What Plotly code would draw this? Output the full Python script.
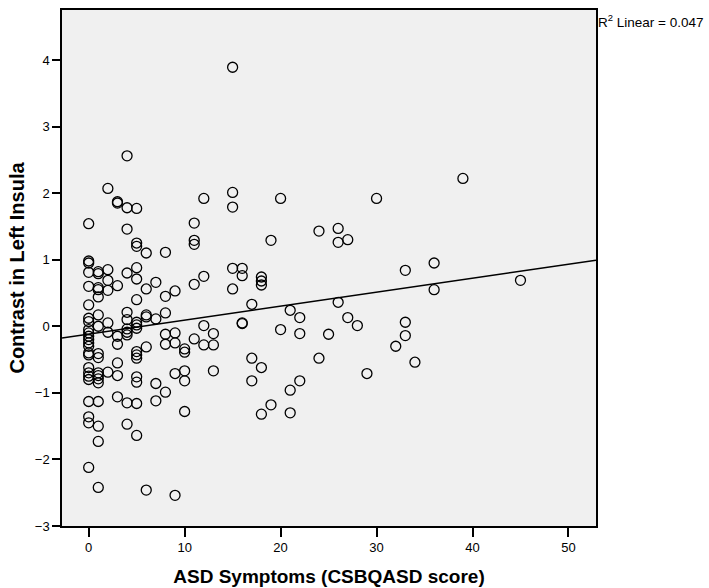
import numpy as np
import plotly.graph_objects as go

# ASD symptom score (x) and contrast values grouped by score
scores = [0, 1, 2, 3, 4, 5, 6, 7, 8, 9, 10, 11, 12, 13, 15, 16, 17, 18, 19, 20,
          21, 22, 24, 25, 26, 27, 28, 29, 30, 32, 33, 34, 36, 39, 45]
contrast_by_score = [
    [1.54, 0.98, 0.95, 0.81, 0.60, 0.32, 0.12, 0.07, -0.05, -0.10, -0.15, -0.20,
     -0.25, -0.30, -0.40, -0.43, -0.62, -0.70, -0.75, -0.80, -1.13, -1.36, -1.45, -2.12],
    [0.82, 0.79, 0.58, 0.55, 0.44, 0.17, 0.00, -0.41, -0.47, -0.70, -0.74, -0.79,
     -0.85, -1.13, -1.50, -1.73, -2.42],
    [2.07, 0.85, 0.69, 0.54, 0.05, -0.09, -0.69],
    [1.87, 1.85, 0.61, -0.15, -0.27, -0.55, -0.74, -1.06],
    [2.56, 1.78, 1.46, 0.80, 0.21, 0.10, -0.04, -0.09, -0.13, -1.15, -1.47],
    [1.77, 1.25, 1.20, 0.88, 0.71, 0.40, 0.06, 0.02, -0.03, -0.38, -0.43, -0.48,
     -0.76, -0.84, -1.16, -1.64],
    [1.10, 0.56, 0.17, 0.14, -0.31, -2.46],
    [0.66, 0.11, -0.86, -1.12],
    [1.11, 0.45, 0.20, -0.12, -0.27, -0.99],
    [0.53, -0.10, -0.25, -0.71, -2.54],
    [-0.34, -0.39, -0.67, -0.82, -1.28],
    [1.55, 1.29, 1.23, 0.63, -0.19],
    [1.92, 0.75, 0.01, -0.28],
    [-0.11, -0.28, -0.67],
    [3.89, 2.01, 1.79, 0.87, 0.56],
    [0.87, 0.76, 0.05, 0.04],
    [0.33, -0.48, -0.82],
    [0.74, 0.68, 0.62, -0.62, -1.32],
    [1.29, -1.18],
    [1.92, -0.05],
    [0.24, -0.96, -1.30],
    [0.13, -0.11, -0.82],
    [1.43, -0.48],
    [-0.12],
    [1.47, 1.26, 0.36],
    [1.30, 0.13],
    [0.01],
    [-0.71],
    [1.92],
    [-0.30],
    [0.84, 0.06, -0.14],
    [-0.54],
    [0.95, 0.55],
    [2.22],
    [0.69],
]
x_ticks = [0, 10, 20, 30, 40, 50]
y_ticks = [-3, -2, -1, 0, 1, 2, 3, 4]
r2_label = "R<sup>2</sup> Linear = 0.047"

x_vals = [s for s, vals in zip(scores, contrast_by_score) for _ in vals]
y_vals = [v for vals in contrast_by_score for v in vals]

x_range = [-2.78, 52.87]
y_range = [-3, 4.75]

slope, intercept = np.polyfit(x_vals, y_vals, 1)
line_x = np.array(x_range)
line_y = intercept + slope * line_x

FONT = "Liberation Sans, Arial, sans-serif"

fig = go.Figure()
fig.add_trace(go.Scatter(
    x=line_x, y=line_y, mode="lines",
    line=dict(color="black", width=1.6), hoverinfo="skip", showlegend=False,
))
fig.add_trace(go.Scatter(
    x=x_vals, y=y_vals, mode="markers",
    marker=dict(symbol="circle-open", size=10, color="black",
                line=dict(width=1.3, color="black")),
    showlegend=False,
))

fig.update_layout(
    width=709, height=588,
    margin=dict(l=62, r=113, t=10, b=62),
    paper_bgcolor="white",
    plot_bgcolor="#f0f0f0",
    font=dict(family=FONT, color="black", size=13),
    xaxis=dict(
        range=x_range, tickvals=x_ticks, ticks="outside", ticklen=9,
        tickcolor="black", tickwidth=1.5, showgrid=False, zeroline=False,
        showline=True, linecolor="black", linewidth=1.5, mirror=True,
        automargin=False,
        tickfont=dict(family=FONT, size=13, color="black"),
        title=dict(text="<b>ASD Symptoms (CSBQASD score)</b>",
                   font=dict(family=FONT, size=19, color="black"), standoff=15),
    ),
    yaxis=dict(
        range=y_range, tickvals=y_ticks, ticks="outside", ticklen=8,
        tickcolor="black", tickwidth=1.5, showgrid=False, zeroline=False,
        showline=True, linecolor="black", linewidth=1.5, mirror=True,
        automargin=False,
        tickfont=dict(family=FONT, size=13, color="black"),
        title=dict(text="<b>Contrast in Left Insula</b>",
                   font=dict(family=FONT, size=20, color="black"), standoff=5),
    ),
    annotations=[dict(
        text=r2_label, x=1, y=1, xref="paper", yref="paper",
        xanchor="left", yanchor="top", xshift=0, yshift=0, showarrow=False,
        font=dict(family=FONT, size=13.5, color="black"),
    )],
)

fig.write_html("out.html", config={"displayModeBar": False},
               post_script="document.body.style.margin='0';")
